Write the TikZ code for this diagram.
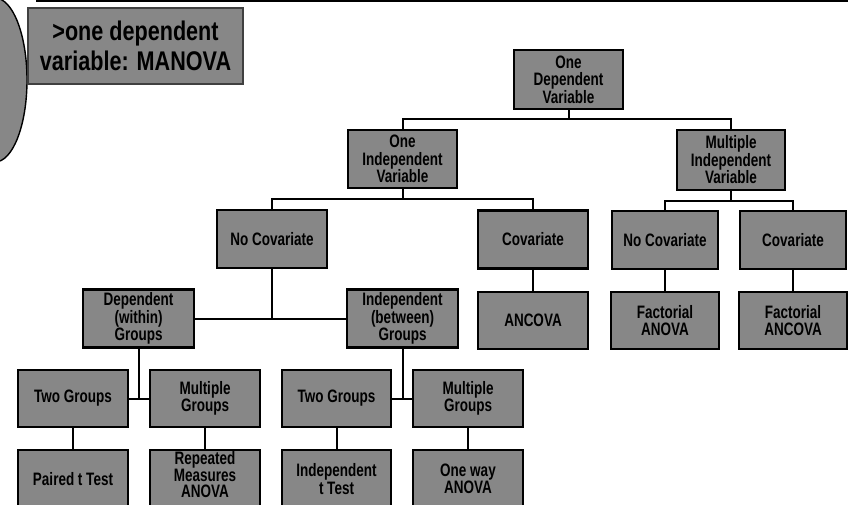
\documentclass[tikz,border=0pt]{standalone}
\usepackage{fontspec}
\newfontfamily\nf{Liberation Sans}[FakeStretch=0.75]
\newfontfamily\tf{Liberation Sans}[FakeStretch=0.8]
\definecolor{boxgray}{gray}{0.53}
\begin{document}
\begin{tikzpicture}[x=1pt,y=-1pt,
  bx/.style={draw=black, line width=2.4pt, fill=boxgray, minimum width=110pt,
    minimum height=58pt, inner sep=0pt, align=center,
    font=\nf\bfseries\fontsize{18}{17.5}\selectfont},
  ttl/.style={draw=black!75, line width=1.2pt, fill=boxgray, minimum width=215pt,
    minimum height=76pt, inner sep=0pt, align=center,
    font=\tf\bfseries\fontsize{27}{30}\selectfont},
  ln/.style={line width=2pt}]
\useasboundingbox (0,0) rectangle (848,504);
\clip (0,0) rectangle (848,504);
% decorations
\draw[draw=black, line width=1.4pt, fill=boxgray] (-5,80) ellipse [x radius=32, y radius=82];
\coordinate (tl) at (36,1);
\coordinate (tr) at (848,1);
\draw[line width=2.8pt] (tl) -- (tr);
\node[ttl] (title) at (135.5,46) {\textgreater one dependent\\variable: MANOVA};
% level 1
\node[bx, minimum width=109pt, minimum height=59pt] (root) at (568.5,79.5) {One\\Dependent\\Variable};
% level 2
\node[bx, minimum width=109pt] (oneIV) at (402.5,159) {One\\Independent\\Variable};
\node[bx, minimum width=108pt, minimum height=60pt] (multIV) at (731,160) {Multiple\\Independent\\Variable};
% level 3
\node[bx] (nocovA) at (272,239) {No Covariate};
\node[bx] (covA) at (533,239.5) {Covariate};
\node[bx, minimum width=106pt] (nocovB) at (665,240) {No Covariate};
\node[bx, minimum width=106pt] (covB) at (793,240) {Covariate};
% level 4
\node[bx, minimum width=111pt] (depG) at (138.5,318.5) {Dependent\\(within)\\Groups};
\node[bx, minimum width=111pt] (indG) at (402.5,318.5) {Independent\\(between)\\Groups};
\node[bx, minimum height=57pt] (ancova) at (533,320.5) {ANCOVA};
\node[bx, minimum width=108pt, minimum height=57pt] (factA) at (665,320.5) {Factorial\\ANOVA};
\node[bx, minimum width=108pt, minimum height=57pt] (factC) at (793,320.5) {Factorial\\ANCOVA};
% level 5
\node[bx, minimum height=57pt] (twoA) at (73,398.5) {Two Groups};
\node[bx, minimum height=57pt] (multA) at (205,398.5) {Multiple\\Groups};
\node[bx, minimum width=109pt, minimum height=57pt] (twoB) at (336.5,398.5) {Two Groups};
\node[bx, minimum height=57pt] (multB) at (468,398.5) {Multiple\\Groups};
% level 6
\node[bx] (paired) at (73,479) {Paired t Test};
\node[bx, text depth=9pt, font=\nf\bfseries\fontsize{18}{16.8}\selectfont] (rep) at (205,479) {Repeated\\Measures\\ANOVA};
\node[bx, minimum width=109pt] (indT) at (336.5,479) {Independent\\t Test};
\node[bx] (oneway) at (468,479) {One way\\ANOVA};
% connectors
\draw[ln] (root.south) -- ++(0,9) coordinate (j1);
\draw[ln] (oneIV.north) |- (j1) -| (multIV.north);
\draw[ln] (oneIV.south) -- ++(0,10) coordinate (j2);
\draw[ln] (nocovA.north) |- (j2) -| (covA.north);
\draw[ln] (multIV.south) -- ++(0,10) coordinate (j3);
\draw[ln] (nocovB.north) |- (j3) -| (covB.north);
\draw[ln] (nocovA.south) -- (nocovA.south |- depG.east);
\draw[ln] (depG.east) -- (indG.west);
\draw[ln] (covA.south) -- (ancova.north);
\draw[ln] (nocovB.south) -- (factA.north);
\draw[ln] (covB.south) -- (factC.north);
\draw[ln] (depG.south) -- (depG.south |- twoA.east);
\draw[ln] (twoA.east) -- (multA.west);
\draw[ln] (indG.south) -- (indG.south |- twoB.east);
\draw[ln] (twoB.east) -- (multB.west);
\draw[ln] (twoA.south) -- (paired.north);
\draw[ln] (multA.south) -- (rep.north);
\draw[ln] (twoB.south) -- (indT.north);
\draw[ln] (multB.south) -- (oneway.north);
\end{tikzpicture}
\end{document}
